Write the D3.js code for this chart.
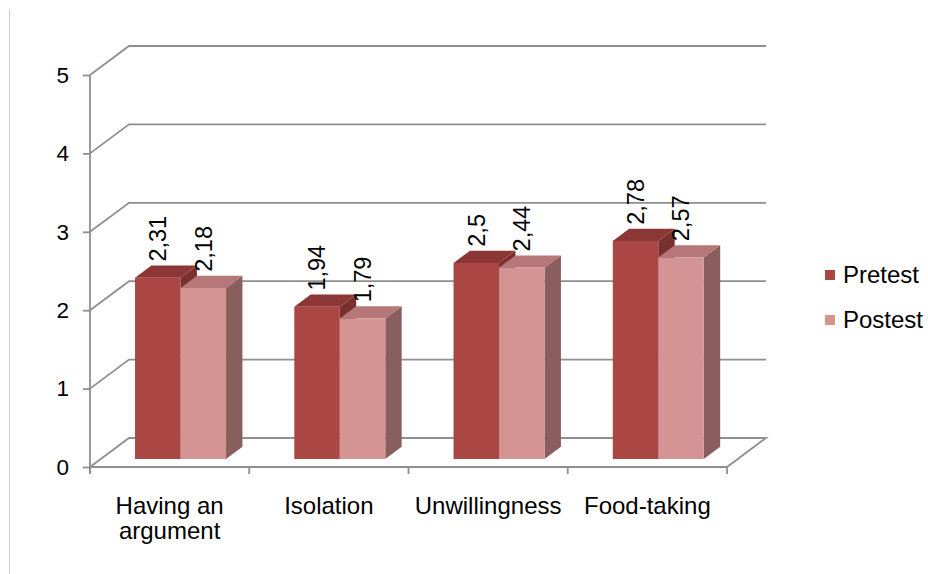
<!DOCTYPE html>
<html>
<head>
<meta charset="utf-8">
<script src="https://cdn.jsdelivr.net/npm/d3@7"></script>
<style>
  body { margin: 0; background: #fff; }
  text { font-family: "Liberation Sans", Arial, sans-serif; fill: #000; }
</style>
</head>
<body>
<div id="chart"></div>
<script>
const categories = ["Having an argument", "Isolation", "Unwillingness", "Food-taking"]
const categoryLines = [["Having an", "argument"], ["Isolation"], ["Unwillingness"], ["Food-taking"]]
const series = ["Pretest", "Postest"]
const pretest = [2.31, 1.94, 2.5, 2.78]
const postest = [2.18, 1.79, 2.44, 2.57]
const labels = [["2,31", "1,94", "2,5", "2,78"], ["2,18", "1,79", "2,44", "2,57"]]
const yTicks = [0, 1, 2, 3, 4, 5]

const W = 928, H = 574
// depth of the 3d box
const DX = 39, DY = -29
const z0 = 0.28, z1 = 0.70
const colors = {
    Pretest: {front: "#aa4643", top: "#8c3735", side: "#7a302e"},
    Postest: {front: "#d49494", top: "#b57777", side: "#8b5e5e"}
}

const svg = d3.select("#chart").append("svg")
    .attr("width", W).attr("height", H)

// chart border (only left edge visible)
svg.append("line").attr("x1", 9.5).attr("x2", 9.5).attr("y1", 9).attr("y2", H)
    .attr("stroke", "#cfcfcf")

const x = d3.scaleBand().domain(categories).range([90, 727])
const x1 = d3.scaleBand().domain(series).range([0, x.bandwidth()]).paddingOuter(0.75)
const y = d3.scaleLinear().domain([0, 5]).range([467, 75])

// project point at depth z (0 front, 1 back)
const P = (px, py, z) => [px + DX * z, py + DY * z]
const poly = pts => "M" + pts.map(p => p.join(",")).join("L") + "Z"

const grid = "#8f8f8f"
const x0 = x.range()[0], xEnd = x.range()[1]

// wall gridlines: diagonal on side wall + horizontal on back wall
const g = svg.append("g").attr("fill", "none").attr("stroke", grid).attr("stroke-width", 1.8)
yTicks.filter(d => d > 0).forEach(t => {
    const a = P(x0, y(t), 0), b = P(x0, y(t), 1), c = P(xEnd, y(t), 1)
    g.append("path").attr("d", "M" + a + "L" + b + "L" + c)
})
// floor
{
    const a = P(x0, y(0), 0), b = P(x0, y(0), 1), c = P(xEnd, y(0), 1), d = P(xEnd, y(0), 0)
    g.append("path").attr("d", "M" + a + "L" + b + "L" + c + "L" + d + "L" + a)
}
// category tick marks at band boundaries
categories.concat([null]).forEach((c, i) => {
    const px = x0 + i * x.step()
    g.append("line").attr("x1", px).attr("x2", px).attr("y1", y(0)).attr("y2", y(0) + 7)
})

// front y axis
const yAxis = svg.append("g")
    .attr("transform", `translate(${x0},0)`)
    .call(d3.axisLeft(y).tickValues(yTicks).tickSize(7).tickPadding(14).tickFormat(d3.format("d")))
yAxis.select(".domain").attr("d", `M0,${y(5)}V${y(0) + 7}`)
    .attr("stroke", grid).attr("stroke-width", 1.8)
yAxis.selectAll(".tick line").attr("stroke", grid).attr("stroke-width", 1.8)
yAxis.selectAll(".tick text").attr("font-size", 22.5)
    .attr("font-family", "Liberation Sans, Arial, sans-serif").attr("fill", "#000")

// bars
const values = [pretest, postest]
const bars = svg.append("g")
categories.forEach((c, i) => {
    series.forEach((s, j) => {
        const v = values[j][i]
        const xl = x(c) + x1(s), xr = xl + x1.bandwidth()
        const yt = y(v), yb = y(0)
        const col = colors[s]
        // side
        bars.append("path").attr("fill", col.side)
            .attr("d", poly([P(xr, yb, z0), P(xr, yb, z1), P(xr, yt, z1), P(xr, yt, z0)]))
        // top
        bars.append("path").attr("fill", col.top)
            .attr("d", poly([P(xl, yt, z0), P(xl, yt, z1), P(xr, yt, z1), P(xr, yt, z0)]))
        // front
        bars.append("path").attr("fill", col.front)
            .attr("d", poly([P(xl, yb, z0), P(xl, yt, z0), P(xr, yt, z0), P(xr, yb, z0)]))
    })
})

// data labels, rotated
categories.forEach((c, i) => {
    series.forEach((s, j) => {
        const v = values[j][i]
        const xc = x(c) + x1(s) + x1.bandwidth() / 2 + DX * z0
        const yt = y(v) + DY * z1 - 4
        svg.append("text")
            .attr("transform", `translate(${xc},${yt}) rotate(-90)`)
            .attr("dy", "0.35em")
            .attr("font-size", 23.5)
            .text(labels[j][i])
    })
})

// category labels
categories.forEach((c, i) => {
    const t = svg.append("text")
        .attr("x", x(c) + x.bandwidth() / 2).attr("y", 514)
        .attr("text-anchor", "middle").attr("font-size", 24)
    categoryLines[i].forEach((line, k) => {
        t.append("tspan").attr("x", x(c) + x.bandwidth() / 2).attr("dy", k ? 25 : 0).text(line)
    })
})

// legend
const legend = svg.append("g").attr("transform", "translate(825,270)")
series.forEach((s, j) => {
    const row = legend.append("g").attr("transform", `translate(0,${j * 45})`)
    row.append("rect").attr("width", 10).attr("height", 10).attr("fill", colors[s].front)
    row.append("text").attr("x", 18).attr("y", 5).attr("dy", "0.35em")
        .attr("font-size", 24).text(s)
})
</script>
</body>
</html>
